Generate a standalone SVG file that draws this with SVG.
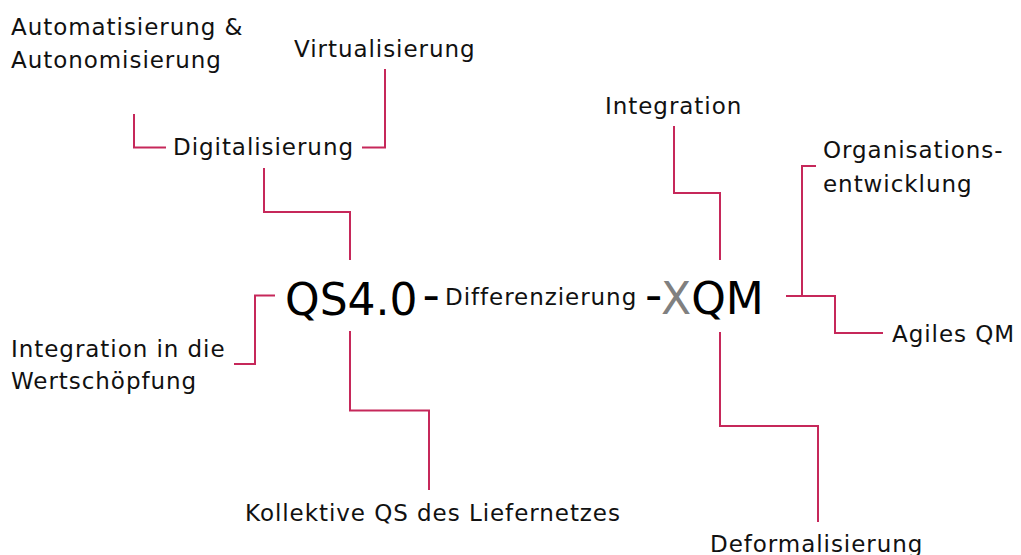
<svg xmlns="http://www.w3.org/2000/svg" width="1021" height="555" viewBox="0 0 1021 555">
<style>
.t{font-family:"DejaVu Sans","Verdana",sans-serif;font-size:23px;letter-spacing:0.95px;fill:#111}
.big{font-family:"DejaVu Sans","Verdana",sans-serif;font-size:44px;fill:#000}
.dash{font-family:"DejaVu Sans",sans-serif;font-size:48px;fill:#000}
.c{fill:none;stroke:#c6285a;stroke-width:2}
</style>
<rect width="1021" height="555" fill="#fff"/>
<g id="connectors">
<path class="c" d="M166,147.5 H134 V114"/>
<path class="c" d="M362,147.5 H385 V69"/>
<path class="c" d="M264,168 V212 H350 V260"/>
<path class="c" d="M275,295.5 H255 V364 H234"/>
<path class="c" d="M350,331 V410.5 H429 V490"/>
<path class="c" d="M674,126 V193 H720 V260"/>
<path class="c" d="M786,296 H835 V333 H883"/>
<path class="c" d="M802,296 V166 H816"/>
<path class="c" d="M720,332 V426 H818 V522"/>
</g>
<g id="center">
<text class="big" x="285" y="315">QS4.0</text>
<text class="dash" x="422.5" y="311">-</text>
<text class="t" x="445" y="305">Differenzierung</text>
<text class="dash" x="645" y="311">-</text>
<text class="big" x="661" y="314"><tspan fill="#808080">X</tspan>QM</text>
</g>
<g id="n-automatisierung"><text class="t" x="11" y="35">Automatisierung &amp;</text><text class="t" x="11" y="68">Autonomisierung</text></g>
<g id="n-virtualisierung"><text class="t" x="294" y="57">Virtualisierung</text></g>
<g id="n-digitalisierung"><text class="t" x="173" y="155">Digitalisierung</text></g>
<g id="n-integration-wert"><text class="t" x="11" y="357">Integration in die</text><text class="t" x="11" y="389">Wertschöpfung</text></g>
<g id="n-kollektive"><text class="t" x="245" y="521">Kollektive QS des Liefernetzes</text></g>
<g id="n-integration"><text class="t" x="605" y="114">Integration</text></g>
<g id="n-organisation"><text class="t" x="823" y="158">Organisations-</text><text class="t" x="823" y="192">entwicklung</text></g>
<g id="n-agiles"><text class="t" x="892" y="342">Agiles QM</text></g>
<g id="n-deformalisierung"><text class="t" x="710" y="552">Deformalisierung</text></g>
</svg>
